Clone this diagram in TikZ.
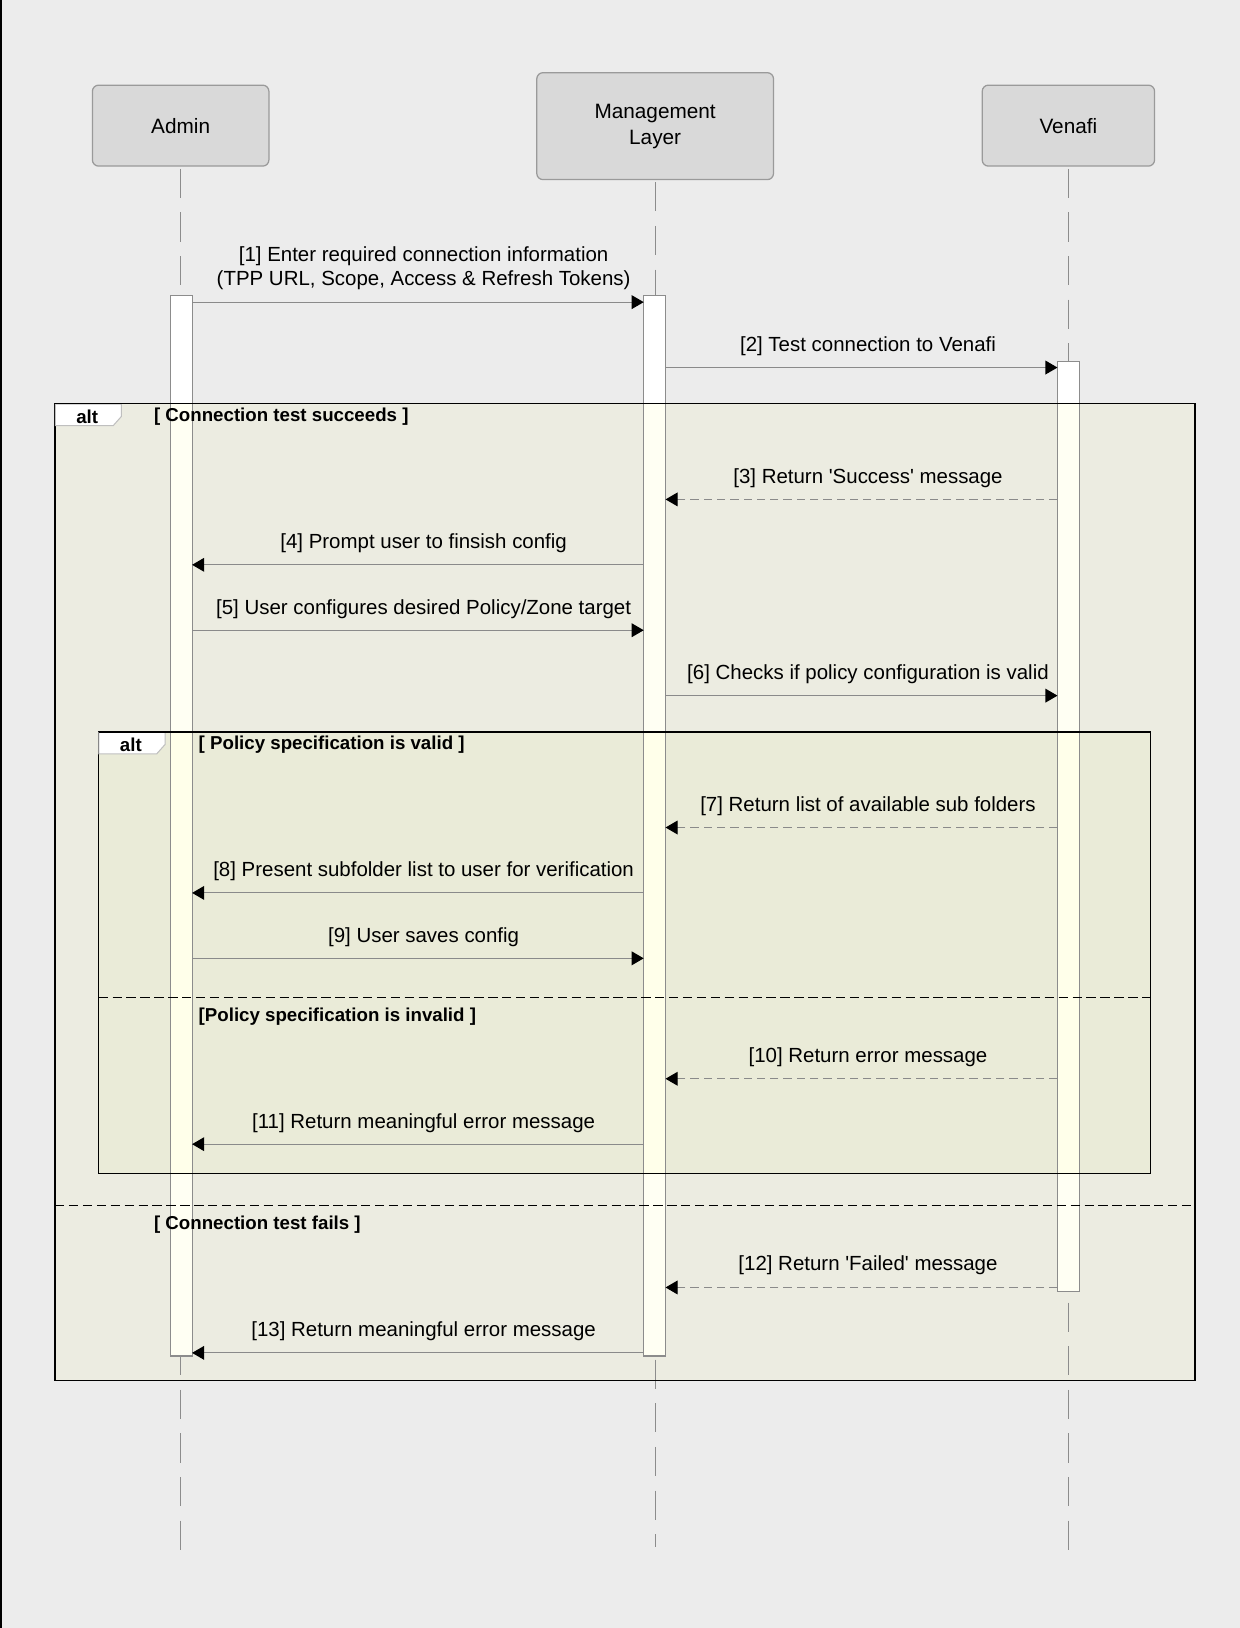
\documentclass[tikz,border=0pt]{standalone}
\usepackage{fontspec}
\setmainfont{Liberation Sans}
\usetikzlibrary{arrows.meta}
\definecolor{bgc}{HTML}{ECECEC}
\definecolor{actfill}{HTML}{D9D9D9}
\definecolor{actline}{HTML}{9A9A9A}
\definecolor{frameone}{HTML}{ECECE1}
\definecolor{frametwo}{HTML}{EAEBD8}
\definecolor{barone}{HTML}{FFFFF3}
\definecolor{bartwo}{HTML}{FFFFEA}
\definecolor{lifec}{HTML}{8C8C8C}
\definecolor{msgc}{HTML}{8A8A8A}
\begin{document}
\begin{tikzpicture}[x=0.5pt,y=-0.5pt,
  actor/.style={draw=actline,fill=actfill,rounded corners=3pt,line width=0.6pt,
    align=center,font=\fontsize{10}{12.5}\selectfont,inner sep=0pt},
  life/.style={draw=lifec,line width=0.5pt,dash pattern=on 14pt off 7pt},
  actbar/.style={draw=lifec,fill=white,line width=0.5pt,minimum width=10.5pt,inner sep=0pt,outer sep=0pt},
  msg/.style={draw=msgc,line width=0.55pt,-{Triangle[length=5.8pt,width=6.6pt,color=black]}},
  rmsg/.style={msg,dash pattern=on 4pt off 2.4pt},
  lbl/.style={font=\fontsize{9.85}{11.5}\selectfont,align=center,inner sep=0pt},
  flbl/.style={font=\bfseries\fontsize{9}{11}\selectfont,inner sep=0pt,anchor=west},
  altlbl/.style={font=\bfseries\fontsize{9}{11}\selectfont,inner sep=0pt},
  frame/.style={draw=black,line width=0.55pt},
  divider/.style={draw=black,line width=0.55pt,dash pattern=on 4.5pt off 2.2pt},
  tab/.style={fill=white,draw=black!25,line width=0.5pt}
]
\useasboundingbox (0,0) rectangle (1194,1568);
\fill[bgc] (0,0) rectangle (1194,1568);
\draw[black,line width=1pt] (0.5,0) -- (0.5,1568);

% frame fills
\fill[frameone] (53,389) rectangle (1151,1330);
\fill[frametwo] (95,705) rectangle (1108,1130);

% actors
\node[actor,minimum width=85pt,minimum height=39pt] (admin) at (174,121) {Admin};
\node[actor,minimum width=114pt,minimum height=51.5pt] (mgmt) at (631,121.5) {Management\\Layer};
\node[actor,minimum width=83pt,minimum height=39pt] (venafi) at (1029,121) {Venafi};

% lifelines
\coordinate (aend) at (174,1502);
\coordinate (mend) at (631,1490);
\coordinate (vend) at (1029,1502);
\draw[life] (admin.south) ++(0,2) -- (aend);
\draw[life] (mgmt.south) ++(0,2) -- (mend);
\draw[life] (venafi.south) ++(0,2) -- (vend);

% activation bars
\node[actbar,minimum height=510.5pt] (abar) at (174.5,795.5) {};
\node[actbar,minimum height=510.5pt] (mbar) at (630.5,795.5) {};
\node[actbar,minimum height=448pt] (vbar) at (1029,796) {};
\begin{scope}
  \clip (53,389) rectangle (1151,1330);
  \fill[barone] (abar.south west) rectangle (abar.north east);
  \fill[barone] (mbar.south west) rectangle (mbar.north east);
  \fill[barone] (vbar.south west) rectangle (vbar.north east);
  \clip (95,705) rectangle (1108,1130);
  \fill[bartwo] (abar.south west) rectangle (abar.north east);
  \fill[bartwo] (mbar.south west) rectangle (mbar.north east);
  \fill[bartwo] (vbar.south west) rectangle (vbar.north east);
\end{scope}
\draw[lifec,line width=0.5pt] (abar.south west) rectangle (abar.north east);
\draw[lifec,line width=0.5pt] (mbar.south west) rectangle (mbar.north east);
\draw[lifec,line width=0.5pt] (vbar.south west) rectangle (vbar.north east);

% frames
\draw[frame] (53,389) rectangle (1151,1330);
\draw[frame] (95,705) rectangle (1108,1130);
\draw[tab] (53.3,389.3) -- (117,389.3) -- (117,401) -- (109,410) -- (53.3,410) -- cycle;
\draw[tab] (95.3,705.3) -- (159,705.3) -- (159,717) -- (151,726) -- (95.3,726) -- cycle;
\draw[frame] (53,389) -- (1151,389);
\draw[frame] (95,705) -- (1108,705);
\node[altlbl] (alt1) at (84,401.5) {alt};
\node[altlbl] (alt2) at (126,717.5) {alt};
\node[flbl] (g1) at (148,401.5) {[ Connection test succeeds ]};
\node[flbl] (g2) at (191,717.5) {[ Policy specification is valid ]};
\draw[divider] (95,961) -- (1108,961);
\node[flbl] (g3) at (191,979.5) {[Policy specification is invalid ]};
\draw[divider] (53,1161) -- (1151,1161);
\node[flbl] (g4) at (148,1179.5) {[ Connection test fails ]};

% messages
\node[lbl] (l1) at (408,258.5) {[1] Enter required connection information\\(TPP URL, Scope, Access \& Refresh Tokens)};
\draw[msg] (abar.east |- 0,291) -- (mbar.west |- 0,291);
\node[lbl] (l2) at (836,333.5) {[2] Test connection to Venafi};
\draw[msg] (mbar.east |- 0,354) -- (vbar.west |- 0,354);
\node[lbl] (l3) at (836,460.5) {[3] Return \textquotesingle Success\textquotesingle\ message};
\draw[rmsg] (vbar.west |- 0,481) -- (mbar.east |- 0,481);
\node[lbl] (l4) at (408,523.5) {[4] Prompt user to finsish config};
\draw[msg] (mbar.west |- 0,544) -- (abar.east |- 0,544);
\node[lbl] (l5) at (408,586.5) {[5] User configures desired Policy/Zone target};
\draw[msg] (abar.east |- 0,607) -- (mbar.west |- 0,607);
\node[lbl] (l6) at (836,649.5) {[6] Checks if policy configuration is valid};
\draw[msg] (mbar.east |- 0,670) -- (vbar.west |- 0,670);
\node[lbl] (l7) at (836,776.5) {[7] Return list of available sub folders};
\draw[rmsg] (vbar.west |- 0,797) -- (mbar.east |- 0,797);
\node[lbl] (l8) at (408,839.5) {[8] Present subfolder list to user for verification};
\draw[msg] (mbar.west |- 0,860) -- (abar.east |- 0,860);
\node[lbl] (l9) at (408,902.5) {[9] User saves config};
\draw[msg] (abar.east |- 0,923) -- (mbar.west |- 0,923);
\node[lbl] (l10) at (836,1018.5) {[10] Return error message};
\draw[rmsg] (vbar.west |- 0,1039) -- (mbar.east |- 0,1039);
\node[lbl] (l11) at (408,1081.5) {[11] Return meaningful error message};
\draw[msg] (mbar.west |- 0,1102) -- (abar.east |- 0,1102);
\node[lbl] (l12) at (836,1218.5) {[12] Return \textquotesingle Failed\textquotesingle\ message};
\draw[rmsg] (vbar.west |- 0,1240) -- (mbar.east |- 0,1240);
\node[lbl] (l13) at (408,1282.5) {[13] Return meaningful error message};
\draw[msg] (mbar.west |- 0,1303) -- (abar.east |- 0,1303);
\end{tikzpicture}
\end{document}
